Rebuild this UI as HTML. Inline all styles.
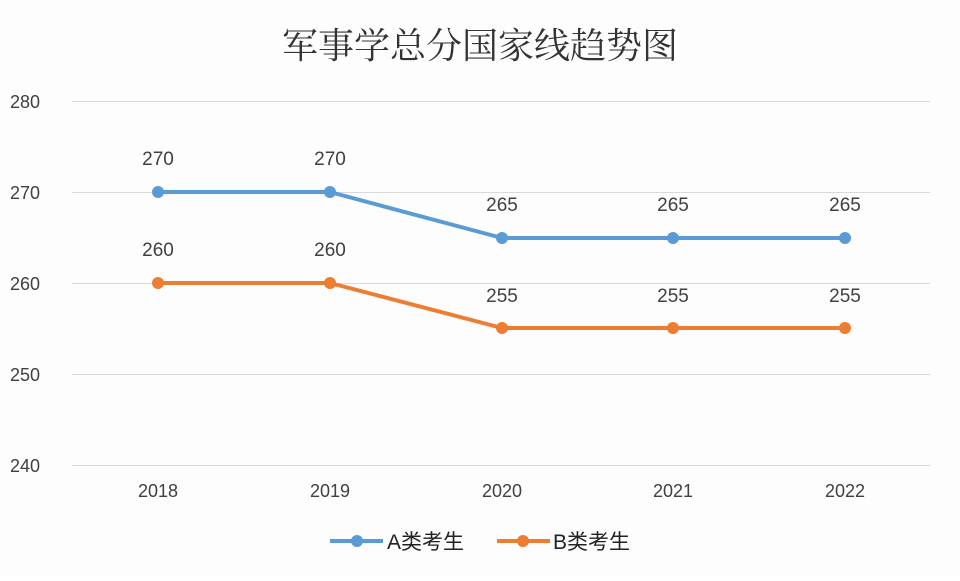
<!DOCTYPE html>
<html><head><meta charset="utf-8"><style>
body{margin:0;background:#fff;}
svg text{font-family:"Liberation Sans","Noto Sans CJK SC",sans-serif;}
</style></head><body>
<svg width="960" height="576" viewBox="0 0 960 576" xmlns="http://www.w3.org/2000/svg">
<rect width="960" height="576" fill="#fdfdfe"/>
<text x="480" y="58" text-anchor="middle" font-size="36" fill="#333" style="font-family:'Noto Serif CJK SC',serif">军事学总分国家线趋势图</text>
<g stroke="#d9d9d9" stroke-width="1">
<line x1="72" x2="930" y1="101.5" y2="101.5"/>
<line x1="72" x2="930" y1="192.5" y2="192.5"/>
<line x1="72" x2="930" y1="283.5" y2="283.5"/>
<line x1="72" x2="930" y1="374.5" y2="374.5"/>
<line x1="72" x2="930" y1="465.5" y2="465.5"/>
</g>
<g font-size="18" fill="#404040">
<text x="10" y="108">280</text>
<text x="10" y="199">270</text>
<text x="10" y="290">260</text>
<text x="10" y="381">250</text>
<text x="10" y="472">240</text>
</g>
<g font-size="18" fill="#404040" text-anchor="middle">
<text x="158" y="497">2018</text>
<text x="330" y="497">2019</text>
<text x="502" y="497">2020</text>
<text x="673" y="497">2021</text>
<text x="845" y="497">2022</text>
</g>
<polyline points="158,192 330,192 502,238 673,238 845,238" fill="none" stroke="#5b9bd5" stroke-width="4" stroke-linejoin="round"/>
<polyline points="158,283 330,283 502,328 673,328 845,328" fill="none" stroke="#ed7d31" stroke-width="4" stroke-linejoin="round"/>
<g fill="#5b9bd5">
<circle cx="158" cy="192" r="6"/><circle cx="330" cy="192" r="6"/><circle cx="502" cy="238" r="6"/><circle cx="673" cy="238" r="6"/><circle cx="845" cy="238" r="6"/>
</g>
<g fill="#ed7d31">
<circle cx="158" cy="283" r="6"/><circle cx="330" cy="283" r="6"/><circle cx="502" cy="328" r="6"/><circle cx="673" cy="328" r="6"/><circle cx="845" cy="328" r="6"/>
</g>
<g font-size="19" fill="#404040" text-anchor="middle">
<text x="158" y="165">270</text><text x="330" y="165">270</text><text x="502" y="211">265</text><text x="673" y="211">265</text><text x="845" y="211">265</text>
<text x="158" y="256">260</text><text x="330" y="256">260</text><text x="502" y="302">255</text><text x="673" y="302">255</text><text x="845" y="302">255</text>
</g>
<line x1="330" x2="383" y1="541" y2="541" stroke="#5b9bd5" stroke-width="4"/>
<circle cx="357" cy="541" r="6" fill="#5b9bd5"/>
<text x="387" y="549" font-size="21" fill="#222">A类考生</text>
<line x1="497" x2="550" y1="541" y2="541" stroke="#ed7d31" stroke-width="4"/>
<circle cx="523" cy="541" r="6" fill="#ed7d31"/>
<text x="553" y="549" font-size="21" fill="#222">B类考生</text>
</svg>
</body></html>
